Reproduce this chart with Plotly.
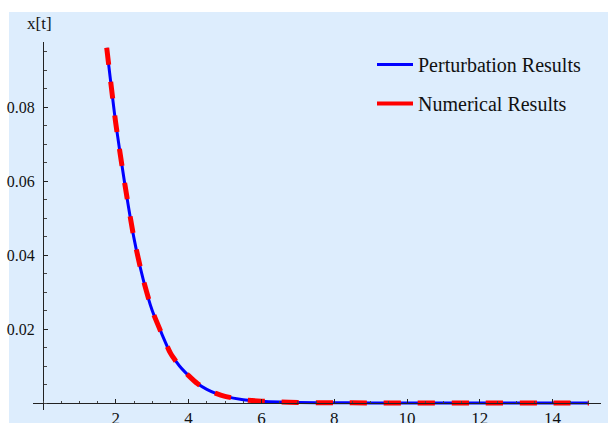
import plotly.graph_objects as go

# ---- data ----
t_vals = [1.75, 2.0, 2.25, 2.5, 2.75, 3.0, 3.25, 3.5, 3.75, 4.0, 4.25, 4.5, 4.75,
          5.0, 5.5, 6.0, 6.5, 7.0, 8.0, 9.0, 10.0, 11.0, 12.0, 13.0, 14.0, 15.0]
perturbation = [0.0960, 0.0755, 0.0590, 0.0445, 0.0335, 0.0250, 0.0190, 0.0135, 0.0100,
                0.0074, 0.0052, 0.0037, 0.0026, 0.0018, 0.0009, 0.0005, 0.00028, 0.00016,
                0.00006, 0.00002, 0.00001, 0.0, 0.0, 0.0, 0.0, 0.0]
numerical = [0.0960, 0.0755, 0.0590, 0.0445, 0.0335, 0.0250, 0.0190, 0.0135, 0.0100,
             0.0074, 0.0052, 0.0037, 0.0026, 0.0018, 0.0009, 0.0005, 0.00028, 0.00016,
             0.00006, 0.00002, 0.00001, 0.0, 0.0, 0.0, 0.0, 0.0]
series_names = ["Perturbation Results", "Numerical Results"]
x_ticks = [2, 4, 6, 8, 10, 12, 14]
x_ticktext = ["2", "4", "6", "8", "10", "12", "14"]
y_ticks = [0.02, 0.04, 0.06, 0.08]
y_ticktext = ["0.02", "0.04", "0.06", "0.08"]
axis_label = "x[t]"

# ---- layout geometry ----
W, H = 608, 423
ML, MR, MT, MB = 33, 7, 42, 13
x_range = [-0.275, 15.33]
y_range = [-0.00189, 0.09757]
BG = "#ddedfd"
FONT = "Liberation Serif"

fig = go.Figure()
fig.add_trace(go.Scatter(x=t_vals, y=perturbation, mode="lines", showlegend=False,
                         line=dict(color="#0000ff", width=3, shape="spline", smoothing=0.6)))
fig.add_trace(go.Scatter(x=t_vals, y=numerical, mode="lines", showlegend=False,
                         line=dict(color="#ff0000", width=5, dash="17px,17px",
                                   shape="spline", smoothing=0.6)))
# legend entries (solid samples as in the reference)
fig.add_trace(go.Scatter(x=[None], y=[None], mode="lines", name=series_names[0],
                         legendgroup="a", line=dict(color="#0000ff", width=3)))
fig.add_trace(go.Scatter(x=[None], y=[None], mode="lines", name=series_names[1],
                         legendgroup="b", line=dict(color="#ff0000", width=4)))

xpos = (0 - y_range[0]) / (y_range[1] - y_range[0])
ypos = (0 - x_range[0]) / (x_range[1] - x_range[0])

fig.update_layout(
    template="none",
    width=W, height=H,
    margin=dict(l=ML, r=MR, t=MT, b=MB, pad=0, autoexpand=False),
    paper_bgcolor="white",
    plot_bgcolor="rgba(0,0,0,0)",
    font=dict(family=FONT, size=16, color="#111"),
    title=dict(text=axis_label, x=27 / W, xanchor="left", xref="container",
               y=1 - 23 / H, yanchor="middle", yref="container", automargin=False,
               font=dict(family=FONT, size=17, color="#111")),
    shapes=[dict(type="rect", xref="paper", yref="paper", layer="below",
                 x0=(9 - ML) / (W - ML - MR), x1=1.1,
                 y0=-0.2, y1=(H - MB - 12) / (H - MT - MB),
                 fillcolor=BG, line=dict(width=0))],
    xaxis=dict(range=x_range, anchor="free", position=xpos, showgrid=False, zeroline=False,
               automargin=False,
               showline=True, linecolor="#222", linewidth=1,
               tickmode="array", tickvals=x_ticks, ticktext=x_ticktext,
               ticks="inside", ticklen=4, tickcolor="#222", tickwidth=1,
               minor=dict(tick0=0, dtick=0.5, ticks="inside", ticklen=2.5,
                          tickcolor="#444", showgrid=False),
               tickfont=dict(family=FONT, size=17, color="#111")),
    yaxis=dict(range=y_range, anchor="free", position=ypos, showgrid=False, zeroline=False,
               automargin=False, ticklabelstandoff=5,
               showline=True, linecolor="#222", linewidth=1,
               tickmode="array", tickvals=y_ticks, ticktext=y_ticktext,
               ticks="inside", ticklen=4, tickcolor="#222", tickwidth=1,
               minor=dict(tick0=0, dtick=0.005, ticks="inside", ticklen=2.5,
                          tickcolor="#444", showgrid=False),
               tickfont=dict(family=FONT, size=16, color="#111")),
    legend=dict(x=(372 - ML) / (W - ML - MR), xanchor="left",
                y=(H - MB - 45) / (H - MT - MB), yanchor="top",
                bgcolor="rgba(0,0,0,0)", borderwidth=0, itemwidth=36,
                tracegroupgap=10, traceorder="grouped",
                font=dict(family=FONT, size=20, color="#111")),
)

fig.write_html("out.html", config={"displayModeBar": False},
               post_script="document.body.style.margin='0';document.body.style.overflow='hidden';")
